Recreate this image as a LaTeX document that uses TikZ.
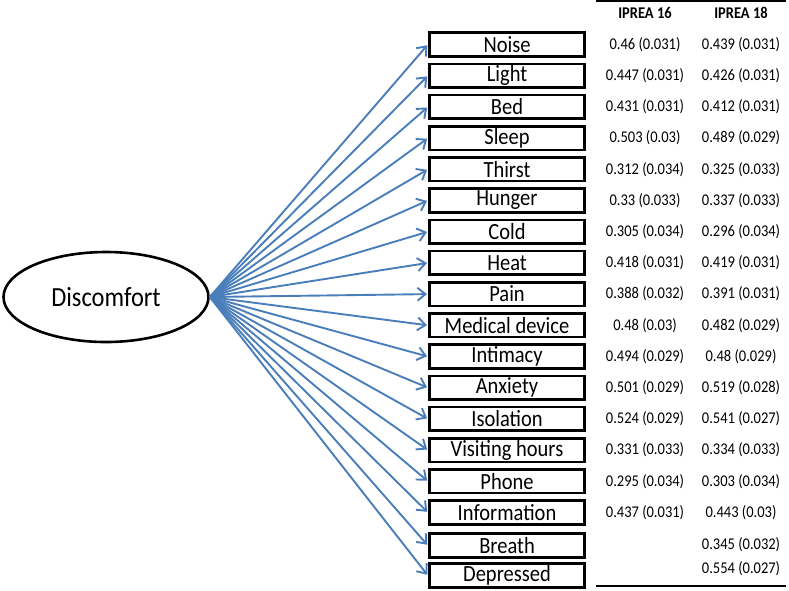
\documentclass[tikz,border=0pt]{standalone}
\usepackage{fontspec}
\setmainfont{Carlito}
\usetikzlibrary{arrows.meta,shapes.geometric}
\definecolor{arrowblue}{HTML}{4A7EBB}
\newcommand{\vstretch}[1]{\scalebox{1}[1.13]{#1}}
\tikzset{
  item/.style={draw=black, line width=2.6pt, rectangle, minimum width=155.5pt, minimum height=23.5pt, inner sep=0pt, font=\fontsize{20.5}{22}\selectfont},
  latent/.style={draw=black, line width=2.6pt, ellipse, minimum width=205pt, minimum height=90pt, inner sep=0pt, font=\fontsize{24.5}{26}\selectfont},
  link/.style={draw=arrowblue, line width=1.9pt, -{Straight Barb[length=8pt,width=13pt,line width=1.9pt]}, shorten >=1pt},
  val/.style={inner sep=0pt, font=\fontsize{14.5}{16}\selectfont},
  hdr/.style={inner sep=0pt, font=\fontsize{14.5}{16}\selectfont\bfseries},
  rule/.style={draw=black, line width=2pt}
}
\begin{document}
\begin{tikzpicture}[x=1pt,y=-1pt]
\useasboundingbox (0,0) rectangle (789,590);
\node[latent] (D) at (106,297) {\vstretch{Discomfort}};
\def\pitch{31.2}
\foreach \name/\lab/\a/\b [count=\i from 0] in {
  n1/Noise/0.46 (0.031)/0.439 (0.031),
  n2/Light/0.447 (0.031)/0.426 (0.031),
  n3/Bed/0.431 (0.031)/0.412 (0.031),
  n4/Sleep/0.503 (0.03)/0.489 (0.029),
  n5/Thirst/0.312 (0.034)/0.325 (0.033),
  n6/Hunger/0.33 (0.033)/0.337 (0.033),
  n7/Cold/0.305 (0.034)/0.296 (0.034),
  n8/Heat/0.418 (0.031)/0.419 (0.031),
  n9/Pain/0.388 (0.032)/0.391 (0.031),
  n10/Medical device/0.48 (0.03)/0.482 (0.029),
  n11/Intimacy/0.494 (0.029)/0.48 (0.029),
  n12/Anxiety/0.501 (0.029)/0.519 (0.028),
  n13/Isolation/0.524 (0.029)/0.541 (0.027),
  n14/Visiting hours/0.331 (0.033)/0.334 (0.033),
  n15/Phone/0.295 (0.034)/0.303 (0.034),
  n16/Information/0.437 (0.031)/0.443 (0.03)}
{
  \node[item] (\name) at (507,44.5+\i*\pitch) {\vstretch{\lab}};
  \node[val] (\name a) at (645,44.5+\i*\pitch) {\vstretch{\a}};
  \node[val] (\name b) at (741,44.5+\i*\pitch) {\vstretch{\b}};
  \draw[link] (D.east) -- (\name.west);
}
\node[item] (n17) at (507,545.5) {\vstretch{Breath}};
\node[val] (n17b) at (741,545) {\vstretch{0.345 (0.032)}};
\draw[link] (D.east) -- (n17.west);
\node[item] (n18) at (507,575.5) {\vstretch{Depressed}};
\node[val] (n18b) at (741,569) {\vstretch{0.554 (0.027)}};
\draw[link] (D.east) -- (n18.west);
\node[hdr] (h1) at (645,13) {\vstretch{IPREA 16}};
\node[hdr] (h2) at (741,13) {\vstretch{IPREA 18}};
\coordinate (t1) at (596,1);
\coordinate (t2) at (786,1);
\coordinate (b1) at (596,586);
\coordinate (b2) at (786,586);
\draw[rule] (t1) -- (t2);
\draw[rule] (b1) -- (b2);
\end{tikzpicture}
\end{document}
